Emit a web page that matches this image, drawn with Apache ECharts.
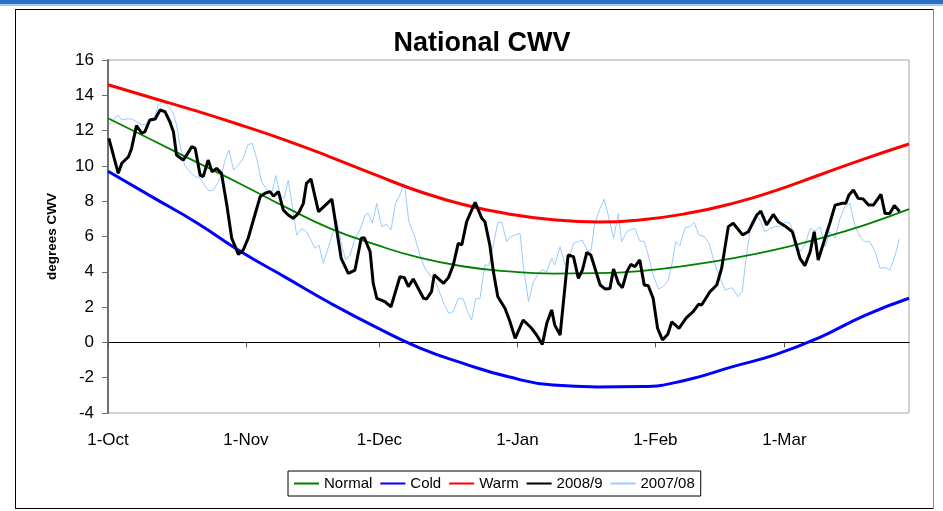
<!DOCTYPE html>
<html>
<head>
<meta charset="utf-8">
<script src="https://cdn.jsdelivr.net/npm/echarts@6/dist/echarts.min.js"></script>
<style>
  html, body { margin: 0; padding: 0; background: #fff; }
  #chart { width: 943px; height: 511px; }
</style>
</head>
<body>
<div id="chart"></div>
<script>
// x axis: days after 1-Oct
var monthDays = [0, 31, 61, 92, 123, 152]
var monthLabels = ['1-Oct', '1-Nov', '1-Dec', '1-Jan', '1-Feb', '1-Mar']

// smooth reference curves, read every 10 days
var curveDays = [0, 10, 20, 30, 40, 50, 60, 70, 80, 90, 100, 110, 120, 130, 140, 150, 160, 170, 180]
var normalVals = [12.7, 11.45, 10.2, 8.95, 7.65, 6.45, 5.55, 4.8, 4.3, 4.02, 3.9, 3.92, 4.05, 4.35, 4.75, 5.25, 5.9, 6.65, 7.55]
var coldVals = [9.7, 8.23, 6.77, 5.12, 3.67, 2.22, 0.89, -0.31, -1.2, -1.95, -2.42, -2.52, -2.5, -2.13, -1.4, -0.69, 0.29, 1.52, 2.5]
var warmVals = [14.6, 13.85, 13.1, 12.3, 11.45, 10.5, 9.5, 8.55, 7.8, 7.28, 6.95, 6.82, 6.95, 7.3, 7.85, 8.6, 9.5, 10.4, 11.24]

// 2008/9 season
var days0809 = [0.2, 2.3, 3.1, 4.6, 5.3, 6.4, 7.6, 8.3, 9.4, 10.6, 11.7, 12.8, 13.9, 14.7, 15.4, 16.9, 17.7, 18.8, 19.6, 20.7,
  21.4, 22.5, 23.4, 24.4, 25.5, 26.7, 27.8, 29.3, 30.4, 31.5, 33.0, 34.2, 35.3, 36.4, 37.2, 38.3, 39.4, 40.5, 41.6, 42.8,
  43.9, 44.6, 45.6, 47.3, 50.3, 52.4, 54.0, 55.5, 56.9, 57.6, 58.9, 59.6, 60.4, 62.2, 63.6, 65.6, 66.6, 67.5, 68.6, 70.9,
  71.6, 72.7, 73.3, 75.4, 76.5, 77.6, 78.7, 79.5, 80.6, 82.5, 84.0, 84.7, 85.8, 86.6, 87.6, 89.2, 90.3, 91.5, 93.3, 95.2,
  96.3, 97.6, 98.6, 99.7, 100.4, 101.6, 103.4, 104.6, 105.7, 106.6, 107.6, 108.5, 110.6, 111.7, 112.8, 113.6, 114.7, 115.6, 116.6, 117.5,
  118.4, 119.5, 120.5, 121.4, 122.5, 123.5, 124.6, 125.8, 126.7, 128.3, 130.0, 131.5, 132.7, 133.4, 135.3, 136.8, 137.9, 139.4, 140.5, 142.6,
  143.9, 145.8, 146.7, 148.0, 149.5, 150.6, 152.1, 153.8, 155.5, 156.6, 157.8, 158.7, 159.6, 161.0, 162.2, 163.4, 165.0, 165.8, 166.5, 167.5,
  168.6, 169.7, 170.9, 172.0, 173.7, 174.6, 175.7, 176.7, 177.9]
var vals0809 = [11.56, 9.58, 10.15, 10.52, 10.99, 12.28, 11.85, 11.94, 12.6, 12.66, 13.17, 13.07, 12.5, 11.94, 10.62, 10.33, 10.62, 11.09, 10.99, 9.48,
  9.39, 10.33, 9.67, 9.86, 9.58, 7.78, 5.9, 4.99, 5.24, 5.9, 7.22, 8.26, 8.45, 8.54, 8.29, 8.54, 7.5, 7.22, 7.03, 7.31,
  7.88, 9.01, 9.26, 7.41, 8.12, 4.76, 3.91, 4.1, 5.9, 5.93, 5.14, 3.35, 2.5, 2.31, 2.02, 3.72, 3.67, 3.16, 3.59, 2.5,
  2.46, 2.88, 3.82, 3.35, 3.67, 4.39, 5.61, 5.52, 6.84, 7.94, 7.03, 6.84, 5.52, 4.01, 2.59, 1.93, 1.2, 0.23, 1.27, 0.8,
  0.42, -0.11, 1.08, 1.84, 0.98, 0.42, 4.95, 4.86, 3.63, 4.1, 5.1, 4.95, 3.25, 3.03, 3.06, 4.16, 3.35, 3.1, 4.01, 4.42,
  4.29, 4.67, 3.25, 3.21, 2.5, 0.8, 0.14, 0.46, 1.17, 0.8, 1.4, 1.74, 2.16, 2.12, 2.88, 3.25, 4.2, 6.56, 6.75, 6.09,
  6.27, 7.22, 7.44, 6.65, 7.25, 6.84, 6.6, 6.27, 4.76, 4.35, 5.14, 6.27, 4.67, 5.8, 6.75, 7.78, 7.88, 7.88, 8.35, 8.63,
  8.16, 8.12, 7.78, 7.78, 8.39, 7.31, 7.31, 7.75, 7.41]

// 2007/08 season
var days0708 = [0.2, 1.2, 2.2, 3.1, 4.2, 5.3, 6.2, 7.6, 8.5, 9.4, 10.4, 11.3, 12.4, 13.6, 14.7, 15.4, 16.2, 17.2, 18.4, 19.6,
  20.7, 21.6, 22.7, 23.7, 24.8, 25.5, 26.3, 27.2, 28.2, 29.1, 30.4, 31.4, 32.4, 33.4, 34.5, 35.7, 36.8, 37.7, 38.7, 39.6,
  40.5, 41.4, 42.4, 43.5, 44.6, 45.4, 46.5, 47.4, 48.4, 49.9, 51.4, 52.5, 53.4, 54.4, 55.5, 56.6, 57.8, 58.5, 59.4, 60.4,
  61.5, 62.6, 63.6, 64.6, 65.6, 66.6, 67.6, 68.8, 70.1, 71.2, 72.6, 73.6, 74.6, 75.6, 76.6, 77.6, 78.7, 79.8, 80.8, 81.7,
  82.6, 83.6, 84.7, 85.6, 86.6, 87.6, 88.5, 89.6, 90.3, 91.5, 92.6, 93.3, 94.5, 95.6, 96.7, 97.5, 98.6, 99.7, 100.4, 101.6,
  102.7, 103.6, 104.6, 105.7, 106.6, 107.6, 108.5, 109.4, 110.6, 111.5, 112.4, 113.6, 114.7, 115.4, 116.6, 117.3, 118.4, 119.5, 120.5, 121.4,
  122.5, 123.7, 124.8, 125.9, 126.7, 127.6, 128.5, 129.7, 130.8, 131.7, 132.8, 134.0, 135.1, 136.0, 137.2, 138.7, 140.2, 141.6, 142.5, 143.5,
  144.6, 145.8, 146.7, 147.6, 148.8, 149.9, 151.0, 152.1, 153.3, 154.4, 155.5, 156.6, 157.8, 158.9, 160.0, 161.1, 162.2, 163.4, 164.5, 165.6,
  166.7, 167.9, 169.0, 170.1, 171.2, 172.4, 173.5, 174.6, 175.7, 176.9, 177.8]
var vals0708 = [12.32, 12.6, 12.88, 12.6, 12.66, 12.66, 12.54, 12.32, 12.35, 12.66, 12.73, 13.45, 13.68, 13.36, 12.98, 12.32, 11.18, 10.05, 9.67, 9.39,
  9.33, 8.92, 8.58, 8.63, 9.11, 9.48, 10.33, 10.9, 9.77, 9.96, 10.43, 11.18, 11.28, 10.43, 9.11, 8.63, 8.45, 9.45, 8.35, 8.16,
  9.2, 7.78, 6.08, 6.46, 6.27, 5.9, 5.33, 5.52, 4.48, 5.71, 6.93, 5.52, 4.67, 4.95, 5.9, 6.37, 7.22, 7.31, 6.75, 7.88,
  6.56, 6.69, 6.37, 7.88, 8.35, 9.01, 6.84, 6.09, 4.95, 4.2, 3.72, 3.44, 2.78, 2.12, 1.65, 1.74, 2.5, 2.46, 1.74, 1.27,
  2.46, 2.5, 4.39, 4.35, 5.52, 6.8, 6.8, 5.71, 5.95, 6.09, 6.18, 4.39, 2.31, 3.44, 3.91, 4.1, 4.01, 4.76, 4.39, 5.42,
  4.39, 4.76, 5.61, 5.71, 5.8, 5.24, 5.14, 6.75, 7.6, 8.12, 7.22, 5.9, 7.31, 5.71, 6.27, 6.37, 6.46, 5.75, 5.71, 4.95,
  3.82, 3.03, 3.16, 3.53, 4.39, 5.71, 5.48, 6.5, 6.56, 6.8, 6.09, 5.99, 5.61, 4.76, 3.82, 2.97, 3.1, 2.59, 2.88, 4.95,
  6.84, 7.22, 6.84, 6.27, 6.46, 6.56, 6.56, 6.8, 6.75, 5.9, 5.14, 5.52, 6.46, 6.31, 6.56, 5.42, 6.27, 5.9, 7.03, 7.69,
  7.88, 6.56, 5.99, 5.71, 5.71, 5.14, 4.2, 4.24, 4.1, 4.95, 5.86]

function pairs(days, vals) {
  return days.map(function (d, i) { return [d, vals[i]] })
}

var font = 'Liberation Sans, Arial, sans-serif'
var myChart = echarts.init(document.getElementById('chart'))

myChart.setOption({
  animation: false,
  backgroundColor: '#fff',
  textStyle: { fontFamily: font },
  title: {
    text: 'National CWV',
    left: 477,
    textAlign: 'center',
    top: 25,
    textStyle: { fontSize: 27, fontWeight: 'bold', color: '#000', fontFamily: font }
  },
  graphic: [
    { type: 'rect', shape: { x: 0, y: 0, width: 943, height: 4 }, style: { fill: '#2b6fc2' } },
    { type: 'rect', shape: { x: 0, y: 4, width: 943, height: 2 }, style: { fill: '#a9cbec' } },
    { type: 'line', shape: { x1: 15, y1: 9.5, x2: 933, y2: 9.5 }, style: { stroke: '#000', lineWidth: 1 } },
    { type: 'line', shape: { x1: 15.5, y1: 9, x2: 15.5, y2: 509 }, style: { stroke: '#000', lineWidth: 1 } },
    { type: 'line', shape: { x1: 15, y1: 508.5, x2: 933, y2: 508.5 }, style: { stroke: '#000', lineWidth: 1 } },
    { type: 'line', shape: { x1: 933.5, y1: 9, x2: 933.5, y2: 509 }, style: { stroke: '#888', lineWidth: 1 } }
  ],
  grid: {
    left: 108, right: 34, top: 60, bottom: 98,
    show: true, borderColor: '#a6a6a6', borderWidth: 1
  },
  legend: {
    left: 288, top: 471,
    itemGap: 8, itemWidth: 25, itemHeight: 2,
    padding: [5, 6],
    borderColor: '#000', borderWidth: 1, backgroundColor: '#fff',
    icon: 'rect',
    textStyle: { fontSize: 15, color: '#000', fontFamily: font },
    data: ['Normal', 'Cold', 'Warm', '2008/9', '2007/08']
  },
  xAxis: [
    {
      type: 'value', min: 0, max: 180,
      axisLine: { show: false, onZero: false },
      axisTick: { show: false },
      splitLine: { show: false },
      axisLabel: {
        customValues: monthDays,
        margin: 19, fontSize: 17, color: '#000', fontFamily: font,
        formatter: function (v) { return monthLabels[monthDays.indexOf(v)] || '' }
      }
    },
    {
      type: 'value', min: 0, max: 180, position: 'bottom',
      axisLine: { show: true, onZero: true, lineStyle: { color: '#000', width: 1 } },
      axisTick: { show: true, customValues: monthDays, length: 5, lineStyle: { color: '#555' } },
      splitLine: { show: false },
      axisLabel: { show: false }
    }
  ],
  yAxis: {
    type: 'value', min: -4, max: 16, interval: 2,
    name: 'degrees CWV', nameLocation: 'middle', nameGap: 49, nameRotate: 90,
    nameTextStyle: { fontSize: 13.5, fontWeight: 'bold', color: '#000', fontFamily: font },
    axisLine: { show: true, lineStyle: { color: '#707070', width: 2 } },
    axisTick: { show: true, length: 6, lineStyle: { color: '#707070' } },
    splitLine: { show: false },
    axisLabel: { fontSize: 17, color: '#000', margin: 14, fontFamily: font }
  },
  series: [
    {
      name: '2007/08', type: 'line', data: pairs(days0708, vals0708),
      showSymbol: false, color: '#99ccff', lineStyle: { width: 1 }, z: 1
    },
    {
      name: 'Normal', type: 'line', data: pairs(curveDays, normalVals), smooth: true,
      showSymbol: false, color: '#008000', lineStyle: { width: 1.8 }, z: 2
    },
    {
      name: 'Cold', type: 'line', data: pairs(curveDays, coldVals), smooth: true,
      showSymbol: false, color: '#0000ff', lineStyle: { width: 3 }, z: 2
    },
    {
      name: 'Warm', type: 'line', data: pairs(curveDays, warmVals), smooth: true,
      showSymbol: false, color: '#ff0000', lineStyle: { width: 3 }, z: 2
    },
    {
      name: '2008/9', type: 'line', data: pairs(days0809, vals0809),
      showSymbol: false, color: '#000000', lineStyle: { width: 3 }, z: 3
    }
  ]
})
</script>
</body>
</html>
